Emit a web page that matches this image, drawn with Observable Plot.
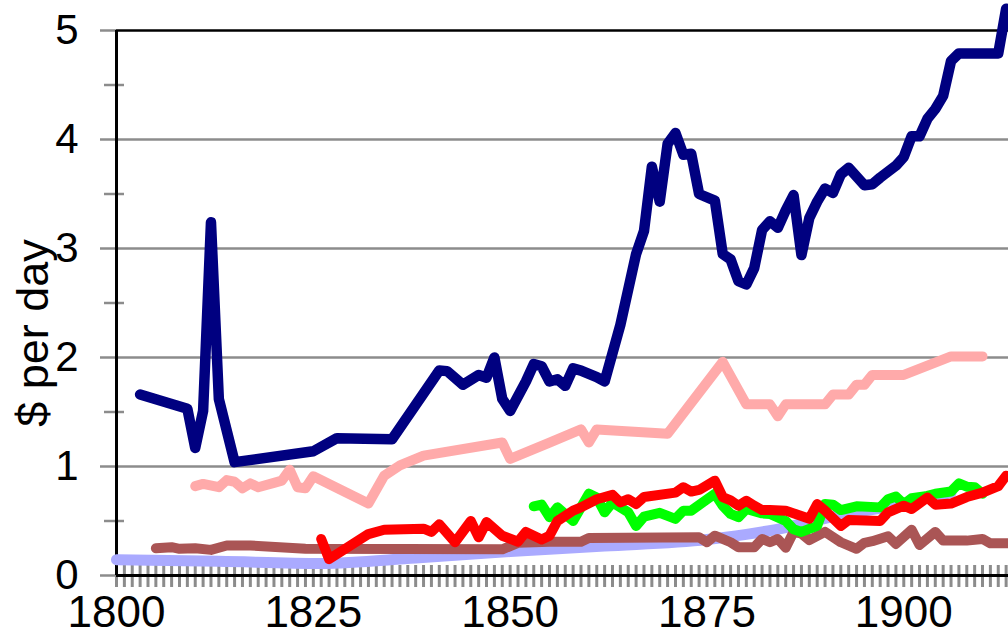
<!DOCTYPE html>
<html><head><meta charset="utf-8">
<script src="https://cdn.jsdelivr.net/npm/d3@7"></script>
<script src="https://cdn.jsdelivr.net/npm/@observablehq/plot@0.6"></script>
<style>body{margin:0;background:#fff;} svg{display:block;}</style>
</head><body><div id="chart"></div>
<script>
// ---- data ----
const navyYears  = [1803,1809,1810,1811,1812,1813,1815,1825,1828,1835,1841,1842,1844,1846,1847,1848,1849,1850,1852,1853,1854,1855,1856,1857,1858,1859,1861,1862,1864,1866,1867,1868,1869,1870,1871,1872,1873,1874,1876,1877,1878,1879,1880,1881,1882,1883,1884,1885,1886,1887,1888,1889,1890,1891,1892,1893,1894,1895,1896,1897,1899,1900,1901,1902,1903,1904,1905,1906,1907,1912,1913];
const navyValues = [1.66,1.53,1.17,1.51,3.24,1.62,1.04,1.14,1.26,1.25,1.88,1.875,1.75,1.84,1.815,2.00,1.62,1.51,1.78,1.94,1.92,1.78,1.80,1.74,1.90,1.88,1.82,1.78,2.30,2.95,3.16,3.75,3.43,3.96,4.06,3.86,3.87,3.50,3.44,2.95,2.90,2.70,2.67,2.82,3.17,3.25,3.19,3.35,3.49,2.94,3.28,3.43,3.55,3.51,3.68,3.74,3.66,3.58,3.59,3.65,3.76,3.84,4.03,4.03,4.19,4.28,4.40,4.72,4.79,4.79,5.20];

const pinkYears  = [1810,1811,1813,1814,1815,1816,1817,1818,1820,1821,1822,1823,1824,1825,1832,1834,1836,1839,1849,1850,1855,1859,1860,1861,1870,1877,1880,1883,1884,1885,1890,1891,1893,1894,1895,1896,1900,1906,1910];
const pinkValues = [0.82,0.84,0.81,0.875,0.86,0.80,0.845,0.81,0.85,0.87,0.97,0.81,0.80,0.91,0.66,0.915,1.01,1.10,1.22,1.07,1.22,1.34,1.22,1.34,1.30,1.96,1.57,1.57,1.46,1.57,1.57,1.66,1.66,1.75,1.75,1.84,1.84,2.01,2.01];

const brownYears  = [1805,1807,1808,1810,1812,1814,1817,1824,1849,1851,1855,1859,1860,1874,1875,1876,1878,1879,1881,1882,1883,1884,1885,1886,1887,1888,1890,1892,1894,1895,1896,1898,1899,1901,1902,1904,1905,1908,1910,1911,1914];
const brownValues = [0.25,0.26,0.245,0.25,0.235,0.275,0.275,0.245,0.24,0.30,0.31,0.31,0.345,0.35,0.305,0.365,0.305,0.26,0.26,0.335,0.305,0.335,0.255,0.40,0.385,0.325,0.40,0.305,0.245,0.30,0.315,0.36,0.29,0.42,0.28,0.40,0.32,0.32,0.335,0.295,0.295];

const redYears  = [1826,1827,1832,1834,1839,1840,1841,1843,1845,1846,1847,1849,1851,1852,1854,1855,1856,1858,1859,1861,1863,1864,1865,1866,1867,1871,1872,1873,1874,1876,1877,1878,1879,1880,1881,1882,1883,1885,1888,1889,1890,1892,1893,1897,1898,1900,1901,1903,1904,1906,1908,1910,1912,1913];
const redValues = [0.335,0.15,0.38,0.42,0.43,0.40,0.47,0.305,0.50,0.35,0.49,0.365,0.31,0.40,0.33,0.365,0.50,0.595,0.625,0.70,0.74,0.67,0.70,0.655,0.72,0.76,0.81,0.77,0.785,0.87,0.72,0.69,0.64,0.685,0.64,0.60,0.60,0.595,0.52,0.655,0.595,0.455,0.51,0.50,0.58,0.64,0.61,0.715,0.65,0.66,0.72,0.76,0.82,0.915];

const greenYears  = [1853,1854,1855,1856,1858,1860,1861,1862,1863,1865,1866,1867,1869,1871,1872,1873,1876,1877,1878,1879,1880,1882,1883,1885,1886,1887,1889,1890,1891,1892,1894,1897,1898,1899,1900,1901,1903,1904,1906,1907,1908,1909,1910];
const greenValues = [0.635,0.65,0.535,0.625,0.50,0.75,0.715,0.58,0.67,0.58,0.455,0.54,0.575,0.52,0.595,0.595,0.75,0.64,0.565,0.535,0.61,0.57,0.565,0.50,0.425,0.40,0.455,0.655,0.65,0.60,0.635,0.625,0.70,0.725,0.655,0.71,0.73,0.75,0.77,0.845,0.815,0.81,0.75];

const lavenderYears  = [1800,1813,1826,1838,1850,1862,1875,1882,1885,1888,1893,1898,1906];
const lavenderValues = [0.145,0.13,0.11,0.16,0.22,0.27,0.33,0.40,0.44,0.49,0.57,0.63,0.76];

const labelYears = [1800,1825,1850,1875,1900];
const minorYears = d3.range(1800, 1914);
const yTicks = [0,1,2,3,4,5];
const yMinor = [0.5,1.5,2.5,3.5,4.5];
const gridValues = [1,2,3,4];
const yLabel = ["$ per day"];

function rows(years, values) { return years.map((y, i) => ({year: y, value: values[i]})); }

const gray = "#8c8c8c";
const lineOpts = (color, w) => ({x: "year", y: "value", stroke: color, strokeWidth: w, strokeLinecap: "round", strokeLinejoin: "round"});

const chart = Plot.plot({
  width: 1008, height: 636,
  marginLeft: 116, marginRight: 0, marginTop: 30, marginBottom: 61,
  style: {fontFamily: "'Liberation Sans', Arial, sans-serif", background: "#fff", color: "#000", overflow: "visible"},
  x: {domain: [1800, 1913.3]},
  y: {domain: [0, 5]},
  marks: [
    Plot.ruleY(gridValues, {stroke: gray, strokeWidth: 2.5}),
    Plot.ruleY([5], {stroke: "#000", strokeWidth: 2.5}),
    Plot.axisX({ticks: minorYears, tickSize: 22, dy: -10, text: null, stroke: gray, strokeWidth: 3, label: null}),
    Plot.axisX({ticks: labelYears, tickSize: 0, tickPadding: 20, fontSize: 44, tickFormat: d => String(d), label: null, fill: "#000"}),
    Plot.axisY({ticks: yTicks, tickSize: 16, tickPadding: 22, fontSize: 42, tickFormat: d => String(d), stroke: gray, strokeWidth: 2.5, fill: "#000", label: null}),
    Plot.axisY({ticks: yMinor, tickSize: 20, dx: 8, text: null, stroke: gray, strokeWidth: 2.5, label: null}),
    Plot.ruleY([0], {stroke: "#000", strokeWidth: 3}),
    Plot.ruleX([1800], {stroke: "#000", strokeWidth: 3}),
    Plot.text(yLabel, {frameAnchor: "left", rotate: -90, dx: -69, dy: 30, lineAnchor: "bottom", textAnchor: "middle", fontSize: 45, fill: "#000"}),
    Plot.line(rows(lavenderYears, lavenderValues), {...lineOpts("#aaaaff", 11), curve: "monotone-x"}),
    Plot.line(rows(brownYears, brownValues), lineOpts("#aa5555", 10)),
    Plot.line(rows(pinkYears, pinkValues), lineOpts("#ffaaaa", 10)),
    Plot.line(rows(greenYears, greenValues), lineOpts("#00ff00", 10)),
    Plot.line(rows(redYears, redValues), lineOpts("#ff0000", 10)),
    Plot.line(rows(navyYears, navyValues), lineOpts("#000080", 10.5))
  ]
});
document.getElementById("chart").appendChild(chart);
</script>
</body></html>
